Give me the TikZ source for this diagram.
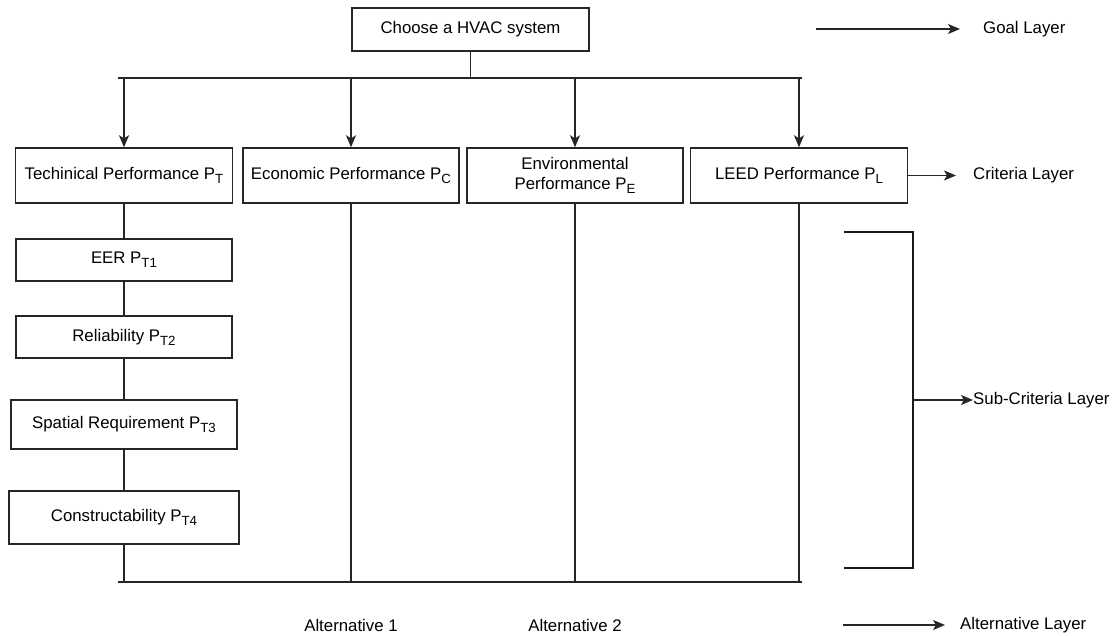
\documentclass[tikz,border=0pt]{standalone}
\usepackage{fontspec}
\setmainfont{Liberation Sans}
\usetikzlibrary{arrows.meta}
\newcommand\mysub[1]{\raisebox{-4pt}{\fontsize{13.3}{15}\selectfont #1}}
\begin{document}
\begin{tikzpicture}[x=1pt,y=-1pt,
  box/.style={draw=black!85, line width=1.4pt, inner sep=0pt, font=\fontsize{16.8}{19.5}\selectfont, align=center},
  lbl/.style={inner sep=0pt, font=\fontsize{16.8}{19.5}\selectfont},
  conn/.style={draw=black!85, line width=1.4pt},
  arr/.style={draw=black!85, line width=1.4pt, -{Stealth[length=12pt,width=10pt,inset=3pt]}},
  brk/.style={draw=black!90, line width=2.6pt},
]
\useasboundingbox[fill=white] (0,0) rectangle (1116,636);

% goal
\node[box, minimum width=237pt, minimum height=43pt] (goal) at (470.5,29.5) {Choose a HVAC system};

% criteria
\node[box, minimum width=217pt, minimum height=55pt] (tech) at (124,175.5) {Techinical Performance P\mysub{T}};
\node[box, minimum width=216pt, minimum height=55pt] (econ) at (351,175.5) {Economic Performance P\mysub{C}};
\node[box, minimum width=216pt, minimum height=55pt] (env) at (575,175.5) {Environmental\\Performance P\mysub{E}};
\node[box, minimum width=217pt, minimum height=55pt] (leed) at (799,175.5) {LEED Performance P\mysub{L}};

% sub-criteria
\node[box, minimum width=216pt, minimum height=42pt] (eer) at (124,260) {EER P\mysub{T1}};
\node[box, minimum width=216pt, minimum height=42pt] (rel) at (124,337) {Reliability P\mysub{T2}};
\node[box, minimum width=226pt, minimum height=49pt] (spa) at (124,424.5) {Spatial Requirement P\mysub{T3}};
\node[box, minimum width=230pt, minimum height=53pt] (con) at (124,517.5) {Constructability P\mysub{T4}};

% bus from goal
\coordinate (busL) at (118,78);
\coordinate (busR) at (802,78);
\draw[conn] (goal.south) -- (goal.south |- busL);
\draw[conn] (busL) -- (busR);
\foreach \n in {tech,econ,env,leed} \draw[arr] (\n.north |- busL) -- (\n.north);

% technical chain
\draw[conn] (tech.south) -- (eer.north);
\draw[conn] (eer.south) -- (rel.north);
\draw[conn] (rel.south) -- (spa.north);
\draw[conn] (spa.south) -- (con.north);

% bottom bus
\coordinate (botL) at (118,582);
\coordinate (botR) at (802,582);
\draw[conn] (botL) -- (botR);
\draw[conn] (con.south) -- (con.south |- botL);
\foreach \n in {econ,env,leed} \draw[conn] (\n.south) -- (\n.south |- botL);

% alternatives
\node[lbl] (alt1) at (351,625) {Alternative 1};
\node[lbl] (alt2) at (575,625) {Alternative 2};

% layer labels
\node[lbl, anchor=west] (goalL) at (983,29) {Goal Layer};
\coordinate (gA) at (816,29);
\coordinate (gB) at (960,29);
\draw[arr] (gA) -- (gB);

\node[lbl, anchor=west] (critL) at (973,175.5) {Criteria Layer};
\coordinate (cB) at (956,175.5);
\draw[arr] (leed.east) -- (cB);

\coordinate (brT) at (844,232);
\coordinate (brTR) at (913,232);
\coordinate (brBR) at (913,568);
\coordinate (brB) at (844,568);
\draw[brk] (brT) -- (brTR) -- (brBR) -- (brB);
\coordinate (brM) at (913,400);
\node[lbl, anchor=west] (subL) at (973,400) {Sub-Criteria Layer};
\draw[arr] (brM) -- (subL.west);

\node[lbl, anchor=west] (altL) at (960,625) {Alternative Layer};
\coordinate (aA) at (843,625);
\coordinate (aB) at (945,625);
\draw[arr] (aA) -- (aB);
\end{tikzpicture}
\end{document}
